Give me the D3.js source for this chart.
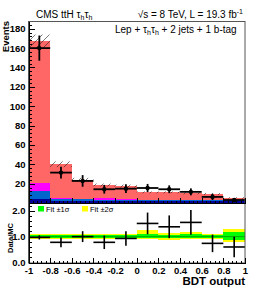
<!DOCTYPE html>
<html>
<head>
<meta charset="utf-8">
<script src="https://cdn.jsdelivr.net/npm/d3@7"></script>
<style>
  body { margin: 0; background: #fff; }
  svg { display: block; font-family: "Liberation Sans", Arial, sans-serif; }
  .axis text { font-weight: bold; font-size: 9.5px; fill: #000; }
  .axis path, .axis line { stroke: #000; shape-rendering: crispEdges; }
</style>
</head>
<body>
<svg id="chart" width="258" height="290"></svg>
<script>
// BDT output bins
const binLo = [-1, -0.8, -0.6, -0.4, -0.2, 0, 0.2, 0.4, 0.6, 0.8];
const binHi = [-0.8, -0.6, -0.4, -0.2, 0, 0.2, 0.4, 0.6, 0.8, 1];

// stacked backgrounds, bottom to top
const bkgNavy    = [4, 2.5, 2.5, 2.5, 2.5, 2, 2, 2, 2, 2];
const bkgBlue    = [8.7, 1.5, 1.5, 1, 1, 0.8, 0.8, 0.8, 0.8, 0.8];
const bkgMagenta = [8, 0.8, 0.5, 1.5, 0.5, 0.3, 0.3, 0.3, 0.3, 0.3];
const bkgRed     = [146.3, 35.2, 19.5, 13.6, 13.5, 7.9, 7.9, 6.9, 6.2, 2.1];
const bkgUnc     = [7, 3, 2, 1.5, 1.5, 1, 1, 1, 1, 0.8];

// observed data
const dataY   = [160, 31.4, 22.8, 14.2, 14.8, 15.5, 14.2, 11.5, 6.3, 3.1];
const dataErr = [13, 6, 6, 4.5, 4.5, 4.2, 4, 3.6, 3.2, 2];

// ratio panel
const ratioY   = [0.97, 0.78, 1.0, 0.78, 0.93, 1.51, 1.38, 1.55, 0.74, 0.6];
const ratioErr = [0.08, 0.19, 0.21, 0.26, 0.28, 0.42, 0.44, 0.48, 0.34, 0.4];
const fit1Lo = [0.95, 0.95, 0.95, 0.95, 0.95, 0.95, 0.95, 0.95, 0.95, 0.88];
const fit1Hi = [1.07, 1.07, 1.07, 1.07, 1.07, 1.12, 1.08, 1.1, 1.06, 1.17];
const fit2Lo = [0.91, 0.91, 0.91, 0.91, 0.91, 0.9, 0.88, 0.9, 0.9, 0.8];
const fit2Hi = [1.12, 1.12, 1.12, 1.12, 1.12, 1.25, 1.15, 1.18, 1.11, 1.3];

const mainTicks  = [20, 40, 60, 80, 100, 120, 140, 160, 180];
const ratioTicks = [0, 1, 2];
const xTicks     = [-1, -0.8, -0.6, -0.4, -0.2, 0, 0.2, 0.4, 0.6, 0.8, 1];

const padL = 28.5, padR = 245, padT = 21, padMid = 203, padB = 263;
const colors = { navy: "#000099", blue: "#0066cc", magenta: "#ff00ff", red: "#ff6666" };

const svg = d3.select("#chart");
const x = d3.scaleLinear([-1, 1], [padL, padR]);
const y = d3.scaleLinear([0, 188], [padMid, padT]);
const yr = d3.scaleLinear([0, 2.3], [padB - 0.5, padMid]);

const defs = svg.append("defs");
defs.append("pattern")
    .attr("id", "hatch")
    .attr("patternUnits", "userSpaceOnUse")
    .attr("width", 7).attr("height", 7)
  .append("path")
    .attr("d", "M0,7 L7,0 M-1,1 L1,-1 M6,8 L8,6")
    .attr("stroke", "#222").attr("stroke-width", 0.6);

// stacked histogram
const layers = [
  { vals: bkgNavy, color: colors.navy },
  { vals: bkgBlue, color: colors.blue },
  { vals: bkgMagenta, color: colors.magenta },
  { vals: bkgRed, color: colors.red }
];
const base = binLo.map(() => 0);
const totals = binLo.map((d, i) => bkgNavy[i] + bkgBlue[i] + bkgMagenta[i] + bkgRed[i]);
const stackG = svg.append("g").attr("shape-rendering", "crispEdges");
layers.forEach(layer => {
  const lo = base.slice();
  layer.vals.forEach((v, i) => base[i] += v);
  const hi = base.slice();
  stackG.selectAll(null)
    .data(binLo)
    .join("rect")
      .attr("x", (d, i) => x(binLo[i]))
      .attr("width", (d, i) => x(binHi[i]) - x(binLo[i]))
      .attr("y", (d, i) => y(hi[i]))
      .attr("height", (d, i) => y(lo[i]) - y(hi[i]))
      .attr("fill", layer.color);
});

// MC uncertainty hatch
svg.append("g").selectAll("rect")
  .data(binLo)
  .join("rect")
    .attr("x", (d, i) => x(binLo[i]))
    .attr("width", (d, i) => x(binHi[i]) - x(binLo[i]))
    .attr("y", (d, i) => y(totals[i] + bkgUnc[i]))
    .attr("height", (d, i) => y(totals[i] - bkgUnc[i]) - y(totals[i] + bkgUnc[i]))
    .attr("fill", "url(#hatch)");

// data points
const pts = svg.append("g").attr("stroke", "#000").attr("stroke-width", 1.8)
  .selectAll("g").data(dataY).join("g");
pts.append("line")
    .attr("x1", (d, i) => x(binLo[i])).attr("x2", (d, i) => x(binHi[i]))
    .attr("y1", d => y(d)).attr("y2", d => y(d));
pts.append("line")
    .attr("x1", (d, i) => x((binLo[i] + binHi[i]) / 2)).attr("x2", (d, i) => x((binLo[i] + binHi[i]) / 2))
    .attr("y1", (d, i) => y(d + dataErr[i])).attr("y2", (d, i) => y(Math.max(0, d - dataErr[i])));
pts.append("circle")
    .attr("cx", (d, i) => x((binLo[i] + binHi[i]) / 2))
    .attr("cy", d => y(d)).attr("r", 2.2).attr("fill", "#000").attr("stroke", "none");

// ratio bands
const bandG = svg.append("g").attr("shape-rendering", "crispEdges");
bandG.selectAll(".b2").data(binLo).join("rect").attr("class", "b2")
    .attr("x", (d, i) => x(binLo[i])).attr("width", (d, i) => x(binHi[i]) - x(binLo[i]))
    .attr("y", (d, i) => yr(fit2Hi[i])).attr("height", (d, i) => yr(fit2Lo[i]) - yr(fit2Hi[i]))
    .attr("fill", "#ffff00");
bandG.selectAll(".b1").data(binLo).join("rect").attr("class", "b1")
    .attr("x", (d, i) => x(binLo[i])).attr("width", (d, i) => x(binHi[i]) - x(binLo[i]))
    .attr("y", (d, i) => yr(fit1Hi[i])).attr("height", (d, i) => yr(fit1Lo[i]) - yr(fit1Hi[i]))
    .attr("fill", "#00ff00");
svg.append("line")
    .attr("x1", x(-1)).attr("x2", x(1)).attr("y1", yr(1)).attr("y2", yr(1))
    .attr("stroke", "#00aa00").attr("stroke-width", 1);

// ratio points
const rp = svg.append("g").attr("stroke", "#000").attr("stroke-width", 1.6)
  .selectAll("g").data(ratioY).join("g");
rp.append("line")
    .attr("x1", (d, i) => x(binLo[i])).attr("x2", (d, i) => x(binHi[i]))
    .attr("y1", d => yr(d)).attr("y2", d => yr(d));
rp.append("line")
    .attr("x1", (d, i) => x((binLo[i] + binHi[i]) / 2)).attr("x2", (d, i) => x((binLo[i] + binHi[i]) / 2))
    .attr("y1", (d, i) => yr(d + ratioErr[i])).attr("y2", (d, i) => yr(d - ratioErr[i]));

// frames
svg.append("rect")
    .attr("x", padL).attr("y", padT + 0.5).attr("width", padR - padL).attr("height", padB - padT - 0.5)
    .attr("fill", "none").attr("stroke", "#555").attr("stroke-width", 1);

// axes
svg.append("g").attr("class", "axis").attr("transform", `translate(${padL},0)`)
    .call(d3.axisLeft(y).tickValues(mainTicks).tickSize(-6).tickSizeOuter(0).tickPadding(3));
svg.append("g").attr("class", "axis").attr("transform", `translate(${padL},0)`)
    .call(d3.axisLeft(y).tickValues(d3.range(4, 188, 4)).tickSize(-3).tickFormat(""))
    .call(g => g.select(".domain").remove());

svg.append("g").attr("class", "axis").attr("transform", `translate(${padL},0)`)
    .call(d3.axisLeft(yr).tickValues(ratioTicks).tickSize(-6).tickSizeOuter(0).tickPadding(3));
svg.append("g").attr("class", "axis").attr("transform", `translate(${padL},0)`)
    .call(d3.axisLeft(yr).tickValues(d3.range(0.2, 2.3, 0.2)).tickSize(-3).tickFormat(""))
    .call(g => g.select(".domain").remove());

[padMid, padB].forEach(pos => {
  svg.append("g").attr("class", "axis").attr("transform", `translate(0,${pos})`)
      .call(d3.axisBottom(x).tickValues(xTicks).tickSize(-5).tickSizeOuter(0).tickPadding(4)
        .tickFormat(pos === padB ? d3.format("~g") : ""));
  svg.append("g").attr("class", "axis").attr("transform", `translate(0,${pos})`)
      .call(d3.axisBottom(x).tickValues(d3.range(-0.96, 1, 0.04)).tickSize(-2.5).tickFormat(""))
      .call(g => g.select(".domain").remove());
});
svg.selectAll(".axis text").filter(function () { return this.textContent.startsWith("−"); })
    .text(function () { return this.textContent.replace("−", "-"); });

// labels
svg.append("text").attr("transform", "translate(9,21) rotate(-90)")
    .attr("text-anchor", "end").attr("font-weight", "bold").attr("font-size", 9.5).text("Events");
svg.append("text").attr("transform", "translate(12.5,238) rotate(-90)")
    .attr("text-anchor", "middle").attr("font-weight", "bold").attr("font-size", 7.5).text("Data/MC");
svg.append("text").attr("x", 245).attr("y", 285)
    .attr("text-anchor", "end").attr("font-weight", "bold").attr("font-size", 11.5).text("BDT output");

const title = svg.append("text").attr("x", 36).attr("y", 18).attr("font-size", 10);
title.append("tspan").text("CMS ttH τ");
title.append("tspan").attr("font-size", 7).attr("dy", 2).text("h");
title.append("tspan").attr("dy", -2).text("τ");
title.append("tspan").attr("font-size", 7).attr("dy", 2).text("h");

const lumi = svg.append("text").attr("x", 243).attr("y", 18).attr("font-size", 10).attr("text-anchor", "end");
lumi.append("tspan").text("√s = 8 TeV, L = 19.3 fb");
lumi.append("tspan").attr("font-size", 7).attr("dy", -4).text("-1");

const cat = svg.append("text").attr("x", 115).attr("y", 33).attr("font-size", 10);
cat.append("tspan").text("Lep + τ");
cat.append("tspan").attr("font-size", 7).attr("dy", 2).text("h");
cat.append("tspan").attr("dy", -2).text("τ");
cat.append("tspan").attr("font-size", 7).attr("dy", 2).text("h");
cat.append("tspan").attr("dy", -2).text(" + 2 jets + 1 b-tag");

// legend
const legend = [
  { label: "Fit ±1σ", color: "#00ff00", lx: 38 },
  { label: "Fit ±2σ", color: "#ffff00", lx: 82 }
];
const lg = svg.append("g").selectAll("g").data(legend).join("g");
lg.append("rect").attr("x", d => d.lx).attr("y", 206).attr("width", 6).attr("height", 5.5).attr("fill", d => d.color);
lg.append("text").attr("x", d => d.lx + 8).attr("y", 212).attr("font-size", 7.5).text(d => d.label);
</script>
</body>
</html>
